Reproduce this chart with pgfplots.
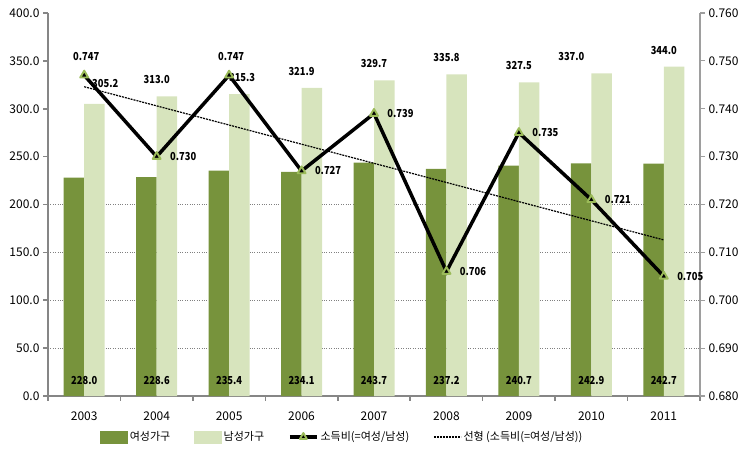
\documentclass[border=0pt]{standalone}
\usepackage{fontspec}
\setmainfont{Noto Sans CJK KR}
\newfontfamily\lblfont{Noto Sans CJK KR}[FakeStretch=0.85]
\usepackage{pgfplots}
\usepackage{pgfplotstable}
\pgfplotsset{compat=1.18}
\definecolor{darkg}{RGB}{119,147,60}
\definecolor{lightg}{RGB}{215,228,189}
\definecolor{markg}{RGB}{155,187,89}
\definecolor{axgray}{RGB}{134,134,134}
\tikzset{lbl/.style={font=\lblfont\bfseries\fontsize{11}{11}\selectfont, inner sep=0pt, text=black}}
\pgfplotsset{
  ratiolegend/.style={legend image code/.code={\draw[##1, mark size=4pt, mark repeat=2, mark phase=2] plot coordinates {(0pt,0pt) (13.5pt,0pt) (27pt,0pt)};}},
  rectlegend/.style={legend image code/.code={\fill[#1] (0pt,-6pt) rectangle (27pt,6pt);}},
  trendlegend/.style={legend image code/.code={\draw[black, line width=1.2pt, dash pattern=on 2pt off 1pt] (0pt,0pt) -- (27pt,0pt);}},
}

\pgfplotstableread{
x f m
0 228.0 305.2
1 228.6 313.0
2 235.4 315.3
3 234.1 321.9
4 243.7 329.7
5 237.2 335.8
6 240.7 327.5
7 242.9 337.0
8 242.7 344.0
}\bardata

\pgfplotstableread{
x r
0 0.747
1 0.730
2 0.747
3 0.727
4 0.739
5 0.706
6 0.735
7 0.721
8 0.705
}\ratiodata

\begin{document}
\begin{tikzpicture}
\path[use as bounding box] (0,0) rectangle (746pt,460pt);
\pgfplotsset{
  common/.style={
    at={(48pt,64pt)}, anchor=south west,
    scale only axis, width=652pt, height=383pt,
    xmin=-0.5, xmax=8.5,
    /pgf/number format/assume math mode=true,
    tick label style={font=\fontsize{12}{12}\selectfont, color=black},
    tick align=outside,
    major tick length=5pt,
    enlargelimits=false,
  },
}
\begin{axis}[common,
  ymin=0, ymax=400,
  axis x line*=bottom, axis y line*=left,
  axis line style={-, axgray, line width=1.6pt},
  every tick/.style={axgray, line width=1.6pt},
  ytick={0,50,...,400},
  yticklabel style={/pgf/number format/.cd, fixed, zerofill, precision=1},
  xtick={0,...,8},
  xticklabels={2003,2004,2005,2006,2007,2008,2009,2010,2011},
  x tick label style={yshift=-7pt},
  minor xtick={-0.5,0.5,...,8.5},
  xtick style={draw=none},
  minor x tick style={draw=axgray, line width=1.6pt},
  minor tick length=5pt,
  extra y ticks={50,100,150,200},
  extra y tick labels={},
  extra y tick style={grid=major, major tick length=0pt},
  major grid style={dotted, line width=0.9pt, gray},
]
\addplot[ybar, bar width=20.5pt, bar shift=-10.25pt, fill=darkg, draw=none,
  point meta=y,
  visualization depends on={value \coordindex \as \ci},
  nodes near coords={\pgfmathprintnumber[fixed,zerofill,precision=1]{\pgfplotspointmeta}},
  every node near coord/.append style={lbl, anchor=center,
    yshift={{-202.5,-203.1,-209.6,-208.3,-217.5,-211.3,-214.7,-216.8,-216.6}[\ci]*1pt}},
] table[x=x, y=f] {\bardata};
\addplot[ybar, bar width=20.5pt, bar shift=10.25pt, fill=lightg, draw=none,
  point meta=y,
  visualization depends on={value \coordindex \as \ci},
  nodes near coords={\pgfmathprintnumber[fixed,zerofill,precision=1]{\pgfplotspointmeta}},
  every node near coord/.append style={lbl, anchor=center,
    xshift={{21,0,13,0,0,0,0,-20,0}[\ci]*1pt},
    yshift={{20,16.5,16.5,16.5,16.5,16.5,16.5,16.5,16.5}[\ci]*1pt}},
] table[x=x, y=m] {\bardata};
\end{axis}

\begin{axis}[common,
  ymin=0.68, ymax=0.76,
  axis x line=none, axis y line*=right,
  axis line style={-, axgray!80, line width=1.2pt},
  every tick/.style={axgray!80, line width=1.2pt},
  ytick={0.68,0.69,0.70,0.71,0.72,0.73,0.74,0.75,0.76},
  yticklabel style={/pgf/number format/.cd, fixed, zerofill, precision=3},
  legend columns=4,
  legend style={at={(0.08,-0.107)}, anchor=west, draw=none, fill=none,
    font=\fontsize{11}{11}\selectfont, inner sep=0pt,
    /tikz/every even column/.append style={column sep=22pt},
  },
  legend cell align=left,
]
\addplot[black, line width=1.2pt, dash pattern=on 2pt off 1pt, forget plot] coordinates {(0,0.7446) (8,0.7126)};
\addlegendimage{rectlegend=darkg}
\addlegendentry{여성가구}
\addlegendimage{rectlegend=lightg}
\addlegendentry{남성가구}
\addplot[black, line width=3.5pt, mark=triangle*, mark size=4.6pt,
  mark options={fill=black, draw=markg, line width=1.9pt, line join=round},
  point meta=y,
  visualization depends on={value \coordindex \as \ci},
  nodes near coords={\pgfmathprintnumber[fixed,zerofill,precision=3]{\pgfplotspointmeta}},
  every node near coord/.append style={lbl, anchor=center,
    xshift={{2,26.5,2,26.5,26.5,26.5,26.5,26.5,26.5}[\ci]*1pt},
    yshift={{19,0,19,0,0,0,0,0,0}[\ci]*1pt}},
  ratiolegend,
] table[x=x, y=r] {\ratiodata};
\addlegendentry{소득비(=여성/남성)}
\addlegendimage{trendlegend}
\addlegendentry{선형 (소득비(=여성/남성))}
\end{axis}
\end{tikzpicture}
\end{document}
